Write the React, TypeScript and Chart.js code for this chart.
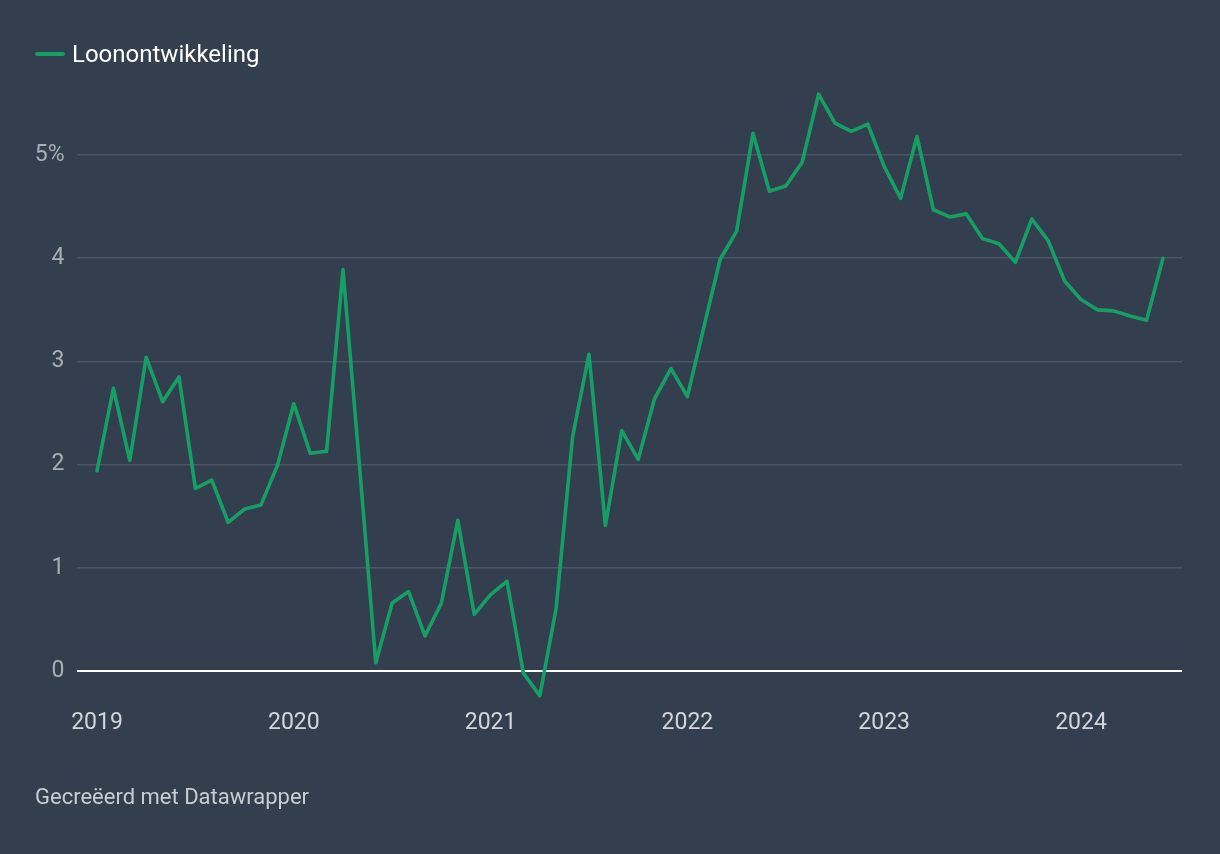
import React, { useEffect, useRef } from "react";
import { Chart, registerables } from "chart.js";

Chart.register(...registerables);

const seriesLabel = "Loonontwikkeling";
const startYear = 2019;
const values: number[] = [
  // 2019
  1.94, 2.74, 2.04, 3.04, 2.61, 2.85, 1.77, 1.85, 1.44, 1.57, 1.61, 1.99,
  // 2020
  2.59, 2.11, 2.13, 3.89, 2.0, 0.08, 0.66, 0.77, 0.34, 0.66, 1.46, 0.55,
  // 2021
  0.74, 0.87, -0.02, -0.24, 0.61, 2.27, 3.07, 1.41, 2.33, 2.05, 2.64, 2.93,
  // 2022
  2.66, 3.33, 3.99, 4.26, 5.21, 4.65, 4.7, 4.93, 5.59, 5.31, 5.23, 5.3,
  // 2023
  4.89, 4.58, 5.18, 4.47, 4.4, 4.43, 4.19, 4.14, 3.96, 4.38, 4.17, 3.78,
  // 2024
  3.6, 3.5, 3.49, 3.44, 3.4, 4.0,
];
const yTicks: number[] = [0, 1, 2, 3, 4, 5];
const xTickYears: number[] = [2019, 2020, 2021, 2022, 2023, 2024];
const footerText = "Gecreëerd met Datawrapper";

const BG = "#333e4f";
const GREEN = "#169f65";
const FONT = "Roboto, 'Noto Sans', sans-serif";

export default function App() {
  const canvasRef = useRef<HTMLCanvasElement | null>(null);

  useEffect(() => {
    document.body.style.margin = "0";
    document.body.style.background = BG;
    const canvas = canvasRef.current;
    if (!canvas) return;
    const points = values.map((v, i) => ({ x: i, y: v }));
    const yMin = -0.3;
    const yMax = 5.7;
    const chart = new Chart(canvas, {
      type: "line",
      data: {
        datasets: [
          {
            label: seriesLabel,
            data: points,
            borderColor: GREEN,
            borderWidth: 3.6,
            pointRadius: 0,
            tension: 0,
            borderJoinStyle: "round",
            borderCapStyle: "round",
          },
        ],
      },
      options: {
        animation: false,
        responsive: false,
        maintainAspectRatio: false,
        devicePixelRatio: 1,
        layout: {
          padding: { left: 0, right: 38, top: 82.8, bottom: 112 },
        },
        plugins: {
          legend: { display: false },
          tooltip: { enabled: false },
        },
        scales: {
          x: {
            type: "linear",
            min: -1.22,
            max: 66.16,
            afterBuildTicks: (scale: any) => {
              scale.ticks = xTickYears.map((y) => ({ value: (y - startYear) * 12 }));
            },
            afterFit: (scale: any) => {
              scale.height = 40;
            },
            grid: { display: false, drawTicks: false },
            border: { display: false },
            ticks: {
              padding: 7,
              color: "#d3d6da",
              font: { family: FONT, size: 23 },
              maxRotation: 0,
              autoSkip: false,
              callback: (v: any) => String(startYear + Math.round(Number(v) / 12)),
            },
          },
          y: {
            type: "linear",
            min: yMin,
            max: yMax,
            afterBuildTicks: (scale: any) => {
              scale.ticks = yTicks.map((v) => ({ value: v }));
            },
            afterFit: (scale: any) => {
              scale.width = 77;
            },
            grid: {
              drawTicks: false,
              color: (ctx: any) => (ctx.tick && ctx.tick.value === 0 ? "#ffffff" : "#4b5565"),
              lineWidth: (ctx: any) => (ctx.tick && ctx.tick.value === 0 ? 2 : 1.5),
            },
            border: { display: false },
            ticks: {
              padding: 12.5,
              color: "#a9aeb5",
              font: { family: FONT, size: 23 },
              autoSkip: false,
              callback: (v: any) => (Number(v) === 5 ? "5%" : String(v)),
            },
          },
        },
      },
    });
    return () => chart.destroy();
  }, []);

  return (
    <div
      style={{
        position: "fixed",
        left: 0,
        top: 0,
        width: 1220,
        height: 854,
        background: BG,
        fontFamily: FONT,
        overflow: "hidden",
      }}
    >
      <canvas
        ref={canvasRef}
        width={1220}
        height={854}
        style={{ position: "absolute", left: 0, top: 0, width: 1220, height: 854 }}
      />
      <div
        style={{
          position: "absolute",
          left: 35,
          top: 39,
          height: 30,
          display: "flex",
          alignItems: "center",
        }}
      >
        <span
          style={{
            display: "inline-block",
            width: 30,
            height: 4,
            background: GREEN,
            borderRadius: 2,
            marginRight: 7,
          }}
        />
        <span style={{ color: "#ffffff", fontSize: 24, lineHeight: "30px" }}>{seriesLabel}</span>
      </div>
      <div
        style={{
          position: "absolute",
          left: 35,
          top: 784,
          color: "#c9ccd1",
          fontSize: 22,
          lineHeight: "26px",
        }}
      >
        {footerText}
      </div>
    </div>
  );
}
